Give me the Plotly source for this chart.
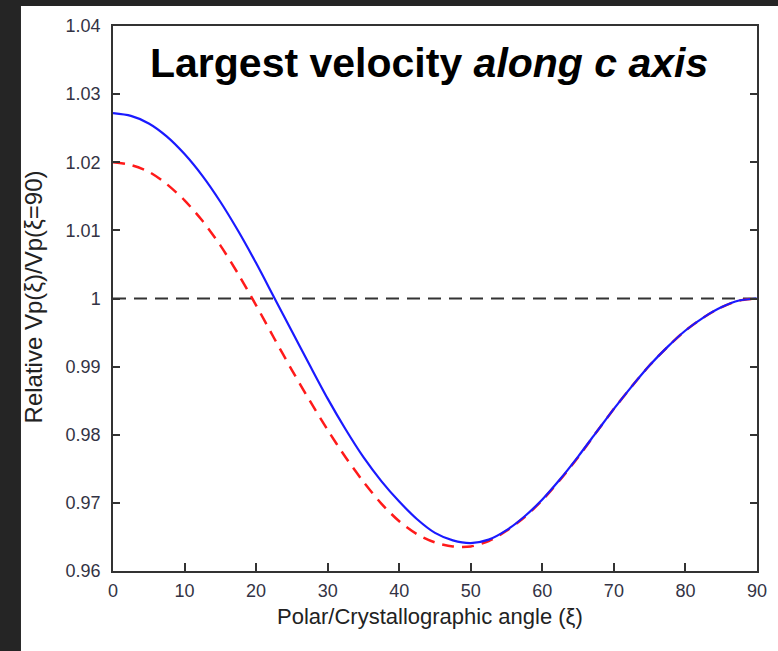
import plotly.graph_objects as go

# Polar / crystallographic angle (degrees)
angle = [0, 2.5, 5, 7.5, 10, 12.5, 15, 17.5, 20, 22.5, 25, 27.5, 30, 32.5, 35, 37.5,
         40, 42.5, 45, 47.5, 50, 52.5, 55, 57.5, 60, 62.5, 65, 67.5, 70, 72.5, 75,
         77.5, 80, 82.5, 85, 87.5, 90]

# Relative P-wave velocity Vp(xi)/Vp(xi=90)
vp_solid = [1.0272, 1.0268, 1.0257, 1.0238, 1.0212, 1.0180, 1.0142, 1.0099, 1.0052,
            1.0002, 0.9952, 0.9902, 0.9853, 0.9808, 0.9767, 0.9732, 0.9702, 0.9676,
            0.9656, 0.9645, 0.9641, 0.9646, 0.9660, 0.9680, 0.9705, 0.9735, 0.9768,
            0.9803, 0.9838, 0.9871, 0.9902, 0.9929, 0.9953, 0.9972, 0.9987, 0.9997,
            1.0000]
vp_dashed = [1.0200, 1.0196, 1.0186, 1.0168, 1.0144, 1.0114, 1.0078, 1.0036, 0.9990,
             0.9942, 0.9895, 0.9850, 0.9807, 0.9767, 0.9731, 0.9699, 0.9673, 0.9654,
             0.9642, 0.9636, 0.9636, 0.9644, 0.9659, 0.9679, 0.9704, 0.9734, 0.9767,
             0.9803, 0.9838, 0.9871, 0.9902, 0.9929, 0.9953, 0.9972, 0.9987, 0.9997,
             1.0000]

reference_level = 1.0

y_ticks = [0.96, 0.97, 0.98, 0.99, 1.00, 1.01, 1.02, 1.03, 1.04]
y_ticktext = ["0.96", "0.97", "0.98", "0.99", "1", "1.01", "1.02", "1.03", "1.04"]
x_ticks = [0, 10, 20, 30, 40, 50, 60, 70, 80, 90]

font_family = "Liberation Sans, Arial, sans-serif"
axis_color = "#333333"

fig = go.Figure()

fig.add_trace(go.Scatter(
    x=[angle[0], angle[-1]], y=[reference_level, reference_level],
    mode="lines", line=dict(color="#333333", width=2, dash="13px,8px"),
    showlegend=False, hoverinfo="skip"))

fig.add_trace(go.Scatter(
    x=angle, y=vp_dashed, mode="lines", line_shape="spline",
    line=dict(color="#ff1a1a", width=2.5, dash="12px,8px", smoothing=0.8),
    showlegend=False))

fig.add_trace(go.Scatter(
    x=angle, y=vp_solid, mode="lines", line_shape="spline",
    line=dict(color="#1a1aff", width=2.2, smoothing=0.8),
    showlegend=False))

fig.update_xaxes(
    range=[0, 90], tickvals=x_ticks, ticks="inside", ticklen=8, tickwidth=1.5,
    tickcolor=axis_color, showline=True, linecolor=axis_color, linewidth=1.5,
    mirror=True, showgrid=False, zeroline=False, ticklabelstandoff=3,
    tickfont=dict(family=font_family, size=18, color="#333344"))

fig.update_yaxes(
    range=[0.96, 1.04], tickvals=y_ticks, ticktext=y_ticktext, ticks="inside",
    ticklen=7, tickwidth=1.5, tickcolor=axis_color, showline=True,
    linecolor=axis_color, linewidth=1.5, mirror="ticks", showgrid=False,
    zeroline=False, ticklabelstandoff=7,
    tickfont=dict(family=font_family, size=18, color="#333344"))

# axis titles
fig.add_annotation(
    text="Polar/Crystallographic angle (ξ)",
    xref="paper", yref="paper", x=0.493, y=-0.0844,
    xanchor="center", yanchor="middle", showarrow=False,
    font=dict(family=font_family, size=22, color="#222222"))
fig.add_annotation(
    text="Relative Vp(ξ)/Vp(ξ=90)", textangle=-90,
    xref="paper", yref="paper", x=-0.1242, y=0.502,
    xanchor="center", yanchor="middle", showarrow=False,
    font=dict(family=font_family, size=24, color="#222222"))

fig.add_annotation(
    text="<b>Largest velocity <i>along c axis</i></b>",
    xref="paper", yref="paper", x=0.49, y=0.932,
    xanchor="center", yanchor="middle", showarrow=False,
    font=dict(family=font_family, size=41, color="#000000"))

# dark frame strips along the left and top edges of the page
dark = "#252525"
fig.add_shape(type="rect", xref="paper", yref="paper",
              x0=-0.1755, x1=-0.1429, y0=-0.147, y1=1.048,
              fillcolor=dark, line=dict(width=0), layer="below")
fig.add_shape(type="rect", xref="paper", yref="paper",
              x0=-0.1755, x1=1.033, y0=1.0367, y1=1.048,
              fillcolor=dark, line=dict(width=0), layer="below")

fig.update_layout(
    width=778, height=651,
    margin=dict(l=113, r=21, t=26, b=80),
    paper_bgcolor="white", plot_bgcolor="white",
    showlegend=False)

fig.write_html("out.html")
